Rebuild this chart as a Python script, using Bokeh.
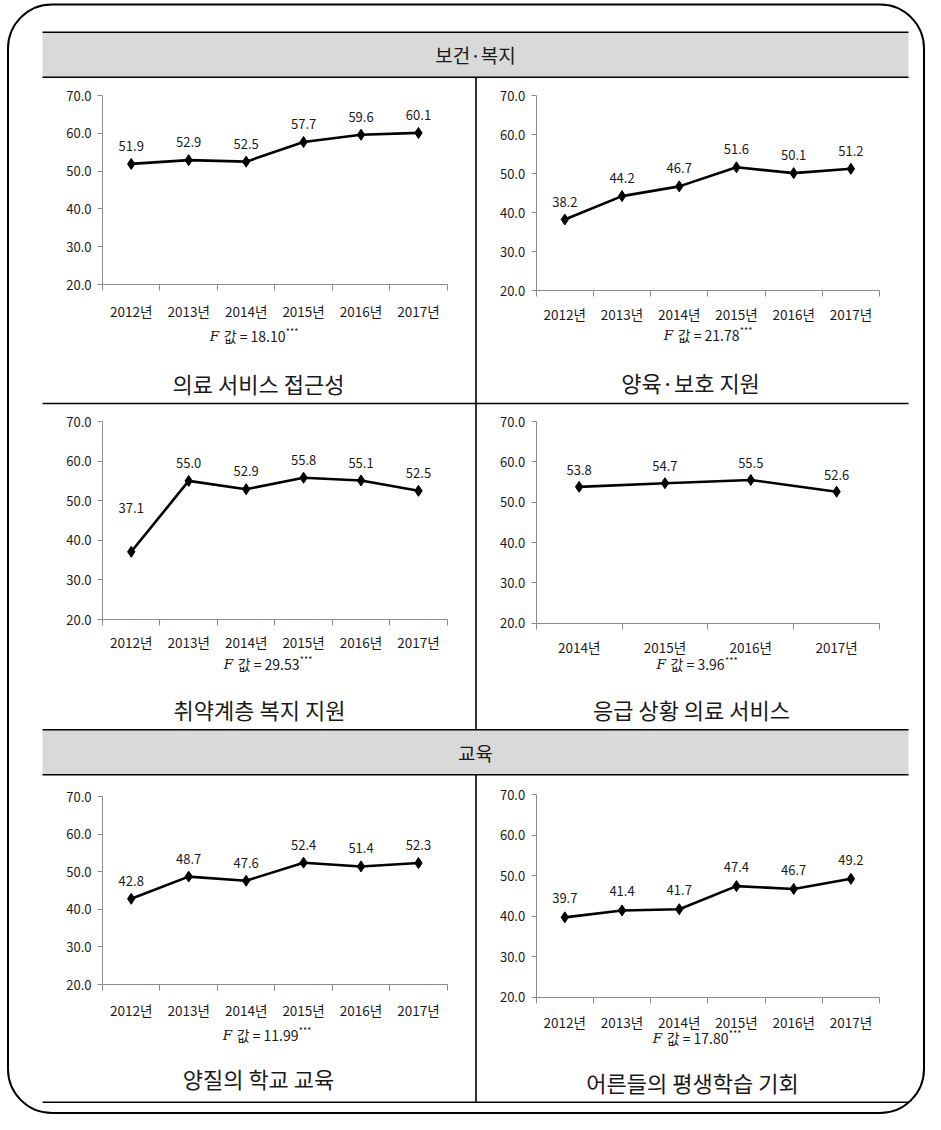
from bokeh.plotting import figure
from bokeh.models import (Range1d, LinearAxis, FixedTicker, PrintfTickFormatter,
                          CustomJSTickFormatter, BoxAnnotation, ColumnDataSource)
from bokeh.core.properties import value
from bokeh.embed import file_html
from bokeh.resources import INLINE

# ---------------- data ----------------
section_titles = ["보건·복지", "교육"]
years_all = ["2012년", "2013년", "2014년", "2015년", "2016년", "2017년"]
years_late = ["2014년", "2015년", "2016년", "2017년"]
y_ticks = [20, 30, 40, 50, 60, 70]

titles = ["의료 서비스 접근성", "양육·보호 지원", "취약계층 복지 지원",
          "응급 상황 의료 서비스", "양질의 학교 교육", "어른들의 평생학습 기회"]
medical_access = [51.9, 52.9, 52.5, 57.7, 59.6, 60.1]
childcare = [38.2, 44.2, 46.7, 51.6, 50.1, 51.2]
vulnerable = [37.1, 55.0, 52.9, 55.8, 55.1, 52.5]
emergency = [53.8, 54.7, 55.5, 52.6]
school = [42.8, 48.7, 47.6, 52.4, 51.4, 52.3]
lifelong = [39.7, 41.4, 41.7, 47.4, 46.7, 49.2]
f_values = ["18.10", "21.78", "29.53", "3.96", "11.99", "17.80"]
f_stars = "***"

cat_sets = [years_all, years_all, years_all, years_late, years_all, years_all]
series = [medical_access, childcare, vulnerable, emergency, school, lifelong]

# ---------------- layout (pixels of the reference picture) ----------------
W, H, OFF = 925, 1114, 0
KR = "Noto Sans CJK KR"
TXT = "#1a1a1a"
AX = "#8c8c8c"

panels = [
    dict(x0=102, x1=446.7, yt=95, yb=284, lab=310, fy=335, fc=253, ty=382.5, tx=258),
    dict(x0=535.7, x1=879, yt=95, yb=290, lab=313, fy=334, fc=707, ty=381, tx=690),
    dict(x0=102, x1=446.7, yt=421, yb=619, lab=641, fy=663, fc=267, ty=708, tx=259),
    dict(x0=535.7, x1=879, yt=421, yb=622.7, lab=646.7, fy=663.5, fc=696, ty=708.3, tx=691),
    dict(x0=102, x1=446.7, yt=796, yb=984, lab=1009, fy=1034, fc=266, ty=1077, tx=258),
    dict(x0=535.7, x1=879, yt=794, yb=996.7, lab=1021.7, fy=1037, fc=696, ty=1081.7, tx=692),
]
# label offsets (screen px above point); one label sits higher in the source
label_dy = [[-18] * 6, [-18] * 6, [-44, -18, -18, -18, -18, -18], [-17] * 4, [-18] * 6, [-19] * 6]


def PX(x):
    return x - OFF


def PY(y):
    return H - (y - OFF)


def est_width(s, fs):
    w = 0.0
    for ch in s:
        if ord(ch) > 0x1100:
            w += 0.92
        elif ch.isdigit():
            w += 0.55
        elif ch == ".":
            w += 0.26
        elif ch == " ":
            w += 0.24
        elif ch == "=":
            w += 0.55
        else:
            w += 0.5
    return w * fs


p = figure(width=W, height=H, x_range=Range1d(0, W), y_range=Range1d(0, H),
           output_backend="svg", toolbar_location=None, min_border=0,
           x_axis_location=None, y_axis_location=None)
p.grid.visible = False
p.outline_line_color = None
p.background_fill_color = "white"
p.border_fill_color = "white"

# ---------------- decorations ----------------
p.add_layout(BoxAnnotation(left=PX(7.5), right=W - 1.5, bottom=1.5, top=PY(4),
                           fill_color=None, fill_alpha=0, line_color="black",
                           line_alpha=1.0, line_width=2, border_radius=44))

for (top, bot) in [(31.7, 76.7), (729.3, 774.3)]:
    p.quad(left=[PX(42)], right=[PX(908)], top=[PY(top)], bottom=[PY(bot)],
           fill_color="#d9d9d9", line_color=None)

h_lines = [31.7, 76.7, 403, 729.3, 774.3, 1101.7]
p.segment(x0=[PX(42)] * len(h_lines), x1=[PX(908)] * len(h_lines),
          y0=[PY(v) for v in h_lines], y1=[PY(v) for v in h_lines],
          line_color="black", line_width=1.6)
p.segment(x0=[PX(475.5)] * 2, x1=[PX(475.5)] * 2,
          y0=[PY(76.7), PY(774.3)], y1=[PY(729.3), PY(1101.7)],
          line_color="black", line_width=1.6)

p.text(x=[PX(475), PX(475)], y=[PY(54), PY(751.5)], text=section_titles,
       text_font=value(KR), text_font_size="19px", text_color=TXT,
       text_align="center", text_baseline="middle")

# ---------------- charts ----------------
for i, (cats, vals) in enumerate(zip(cat_sets, series)):
    L = panels[i]
    n = len(cats)
    X0, X1 = PX(L["x0"]), PX(L["x1"])
    sx = (X1 - X0) / n
    xs = -0.5 - X0 / sx
    Yt, Yb = PY(L["yt"]), PY(L["yb"])
    sy = (Yt - Yb) / 50.0
    ys = 20 - Yb / sy
    xn, yn = f"x{i}", f"y{i}"
    p.extra_x_ranges[xn] = Range1d(xs, xs + W / sx)
    p.extra_y_ranges[yn] = Range1d(ys, ys + H / sy)

    # y axis
    ya = LinearAxis(x_range_name=xn, y_range_name=yn, fixed_location=-0.5,
                    bounds=(20, 70), ticker=FixedTicker(ticks=y_ticks),
                    formatter=PrintfTickFormatter(format="%.1f"),
                    axis_line_color=AX, major_tick_line_color=AX,
                    major_tick_in=0, major_tick_out=5, minor_tick_line_color=None,
                    major_label_standoff=6, major_label_text_font=KR,
                    major_label_text_font_size="13px", major_label_text_color=TXT)
    p.add_layout(ya, "left")

    # x axis line with ticks at category boundaries
    xa = LinearAxis(x_range_name=xn, y_range_name=yn, fixed_location=20,
                    bounds=(-0.5, n - 0.5),
                    ticker=FixedTicker(ticks=[k - 0.5 for k in range(n + 1)]),
                    formatter=CustomJSTickFormatter(code="return '';"),
                    axis_line_color=AX, major_tick_line_color=AX,
                    major_tick_in=0, major_tick_out=6, minor_tick_line_color=None)
    p.add_layout(xa, "below")

    # category labels at category centres
    la = LinearAxis(x_range_name=xn, y_range_name=yn, fixed_location=20,
                    ticker=FixedTicker(ticks=list(range(n))),
                    formatter=CustomJSTickFormatter(args=dict(labels=cats),
                                                    code="const k = Math.round(tick); return (k >= 0 && k < labels.length) ? labels[k] : '';"),
                    axis_line_color=None, major_tick_line_color=None,
                    major_tick_in=0, major_tick_out=0,
                    minor_tick_line_color=None,
                    major_label_standoff=int(round(L["lab"] - L["yb"] - 10)),
                    major_label_text_font=KR, major_label_text_font_size="13.5px",
                    major_label_text_color=TXT)
    p.add_layout(la, "below")

    src = ColumnDataSource(dict(x=list(range(n)), y=vals,
                                lab=[f"{v:.1f}" for v in vals], dy=label_dy[i]))
    p.line("x", "y", source=src, x_range_name=xn, y_range_name=yn,
           line_color="black", line_width=2.6)
    p.scatter("x", "y", source=src, x_range_name=xn, y_range_name=yn,
              marker="diamond", size=11, fill_color="black", line_color="black")
    p.text("x", "y", text="lab", source=src, x_range_name=xn, y_range_name=yn,
           y_offset="dy", text_align="center", text_baseline="middle",
           text_font=value(KR), text_font_size="13px", text_color=TXT)

    # F value caption:  F 값 = xx.xx***
    main = f"값 = {f_values[i]}"
    fs = 14
    w_f, gap = 8, 6
    w_main = est_width(main, fs)
    w_st = 12
    total = w_f + gap + w_main + w_st
    start = PX(L["fc"]) - total / 2
    fyy = PY(L["fy"])
    p.text(x=[start], y=[fyy], text=["F"], text_font=value("DejaVu Serif"),
           text_font_style="italic", text_font_size="13.5px", text_color=TXT,
           text_align="left", text_baseline="middle")
    p.text(x=[start + w_f + gap], y=[fyy], text=[main], text_font=value(KR),
           text_font_size=f"{fs}px", text_color=TXT,
           text_align="left", text_baseline="middle")
    p.text(x=[start + w_f + gap + w_main + 0.5], y=[fyy + 4], text=[f_stars],
           text_font=value(KR), text_font_size="9px", text_color=TXT,
           text_align="left", text_baseline="middle")

    # chart title
    p.text(x=[PX(L["tx"])], y=[PY(L["ty"])], text=[titles[i]],
           text_font=value(KR), text_font_size="22px", text_color=TXT,
           text_align="center", text_baseline="middle")

open("out.html", "w").write(file_html(p, INLINE))
